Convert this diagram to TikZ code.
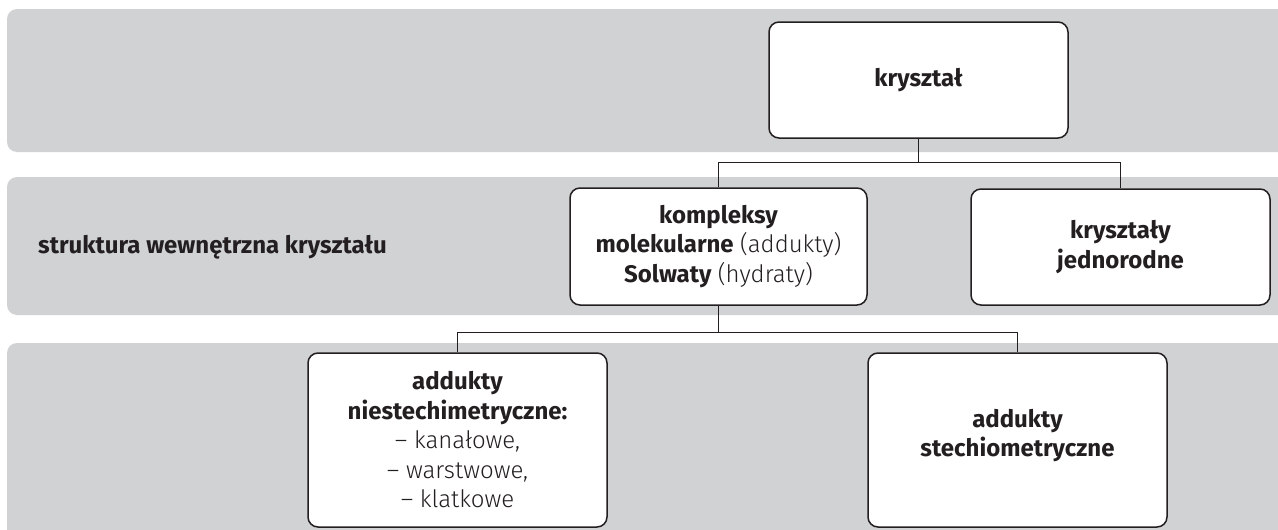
\documentclass[tikz,border=0pt]{standalone}
\usepackage{fontspec}
\setmainfont{Fira Sans}
\newfontfamily\lightfont{Fira Sans Light}
\definecolor{bandgray}{HTML}{D1D2D4}
\definecolor{ink}{HTML}{231F20}
\tikzset{
  band/.style={fill=bandgray, rounded corners=10pt},
  box/.style={draw=ink, fill=white, line width=1.5pt, rounded corners=10pt, align=center, text=ink, inner sep=0pt,
    font=\fontsize{24}{29.5}\selectfont},
  conn/.style={draw=ink, line width=1pt},
  lbl/.style={text=ink, font=\bfseries\fontsize{24}{29.5}\selectfont, anchor=west, inner sep=0pt}
}
\newcommand{\lt}[1]{{\lightfont #1}}
\begin{document}
\begin{tikzpicture}[x=1pt,y=-1pt]
\useasboundingbox (0,0) rectangle (1278,530);
\clip (0,0) rectangle (1278,530);
% bands
\fill[band] (7,9) rectangle (1300,152);
\fill[band] (7,177) rectangle (1300,315);
\fill[band] (7,343) rectangle (1300,560);
% label
\node[lbl] (lab) at (38,247) {struktura wewnętrzna kryształu};
% boxes
\node[box, minimum width=299pt, minimum height=116pt] (kr) at (918.5,80) {\bfseries kryształ};
\node[box, minimum width=297pt, minimum height=117pt] (ko) at (718.5,246.5) {\textbf{kompleksy}\\\textbf{molekularne} \lt{(addukty)}\\\textbf{Solwaty} \lt{(hydraty)}};
\node[box, minimum width=299pt, minimum height=116pt] (kj) at (1120.5,247) {\bfseries kryształy\\\bfseries jednorodne};
\node[box, minimum width=299pt, minimum height=174pt] (an) at (457.5,440) {\textbf{addukty}\\\textbf{niestechimetryczne:}\\\lt{– kanałowe,}\\\lt{– warstwowe,}\\\lt{– klatkowe}};
\node[box, minimum width=299pt, minimum height=174pt] (as) at (1017.5,440) {\bfseries addukty\\\bfseries stechiometryczne\\[-15pt]\mbox{}};
% connectors
\coordinate (j1) at (0,162);
\coordinate (j2) at (0,332);
\draw[conn] (kr.south) -- (kr.south |- j1) -| (ko.north);
\draw[conn] (kr.south |- j1) -| (kj.north);
\draw[conn] (ko.south) -- (ko.south |- j2) -| (an.north);
\draw[conn] (ko.south |- j2) -| (as.north);
\end{tikzpicture}
\end{document}
